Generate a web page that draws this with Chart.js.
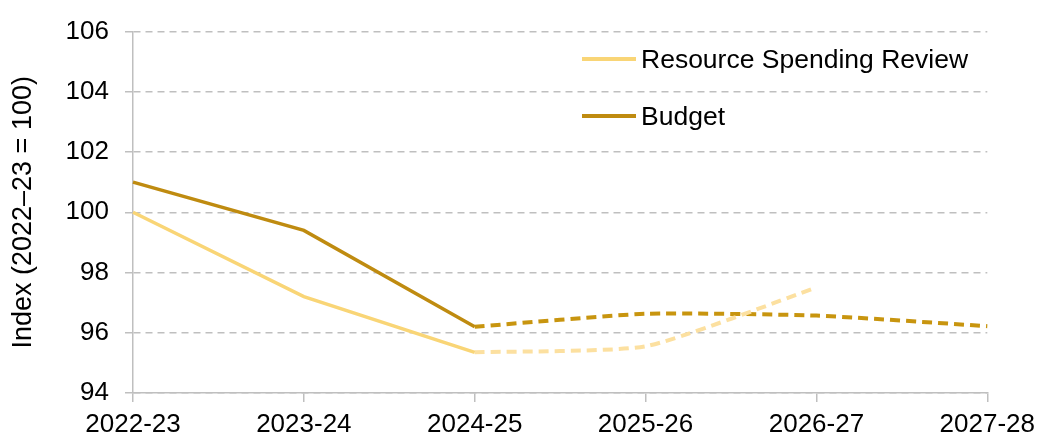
<!DOCTYPE html>
<html>
<head>
<meta charset="utf-8">
<script src="https://cdn.jsdelivr.net/npm/chart.js@4.4.0/dist/chart.umd.min.js"></script>
<style>
  body { margin: 0; background: #fff; font-family: "Liberation Sans", Arial, sans-serif; }
  #wrap { position: relative; width: 1042px; height: 440px; }
  .leg { position: absolute; font-size: 26.5px; color: #000; white-space: nowrap; }
  .leg span { display: inline-block; width: 54px; height: 4px; vertical-align: middle; margin-right: 5px; position: relative; top: -2px; }
</style>
</head>
<body>
<div id="wrap">
  <canvas id="chart1" width="1042" height="440"></canvas>
  <div class="leg" style="left:582px; top:44px;"><span style="background:#F9D576"></span>Resource Spending Review</div>
  <div class="leg" style="left:582px; top:101px;"><span style="background:#BF8B10"></span>Budget</div>
</div>
<script>
    var years = ['2022-23', '2023-24', '2024-25', '2025-26', '2026-27', '2027-28'];
    var spendingReview = [100, 97.2, 95.35, 95.55, 97.5, null];
    var budget = [101, 99.4, 96.2, 96.63, 96.57, 96.22];
    var lastOutturn = 2; // solid up to this index, dashed after

    function solidPart(arr) {
        return arr.map(function(v, i) { return i <= lastOutturn ? v : null; });
    }
    function dashedPart(arr) {
        return arr.map(function(v, i) { return i >= lastOutturn ? v : null; });
    }

    var font = { family: '"Liberation Sans", Arial, sans-serif', size: 26 };

    var ctx = document.getElementById('chart1').getContext('2d');
    var myChart = new Chart(ctx, {
        type: 'line',
        data: {
            labels: years,
            datasets: [
                { label: 'Resource Spending Review', data: solidPart(spendingReview), borderColor: '#F9D576', borderWidth: 3.5, pointRadius: 0, tension: 0 },
                { label: 'Budget', data: solidPart(budget), borderColor: '#BF8B10', borderWidth: 3.5, pointRadius: 0, tension: 0 },
                { label: 'rsr-plan', data: dashedPart(spendingReview), borderColor: '#FCE0A0', borderWidth: 4, borderDash: [10, 6], pointRadius: 0, tension: 0.18 },
                { label: 'budget-plan', data: dashedPart(budget), borderColor: '#C8950F', borderWidth: 4, borderDash: [10, 6], pointRadius: 0, tension: 0.18 }
            ]
        },
        options: {
            responsive: false,
            animation: false,
            layout: { padding: { top: 25, right: 54, left: 0, bottom: 0 } },
            plugins: {
                legend: { display: false },
                tooltip: { enabled: false }
            },
            scales: {
                x: {
                    offset: false,
                    afterFit: function(scale) { scale.height = 47; },
                    grid: { display: true, drawOnChartArea: false, color: '#BFBFBF', tickLength: 9, lineWidth: 1.5 },
                    border: { color: '#BFBFBF', width: 1.5 },
                    ticks: { color: '#000', font: font, maxRotation: 0, padding: 7 }
                },
                y: {
                    min: 94,
                    max: 106,
                    afterFit: function(scale) { scale.width = 133; },
                    ticks: { stepSize: 2, color: '#000', font: font, padding: 16 },
                    grid: { color: '#BFBFBF', tickLength: 8, lineWidth: 1.5 },
                    border: { color: '#BFBFBF', width: 1.5, dash: [7, 5] },
                    title: { display: true, text: 'Index (2022\u201323 = 100)', color: '#000', font: { family: font.family, size: 27 }, padding: { top: 7, bottom: 4 } }
                }
            }
        }
    });
</script>
</body>
</html>
